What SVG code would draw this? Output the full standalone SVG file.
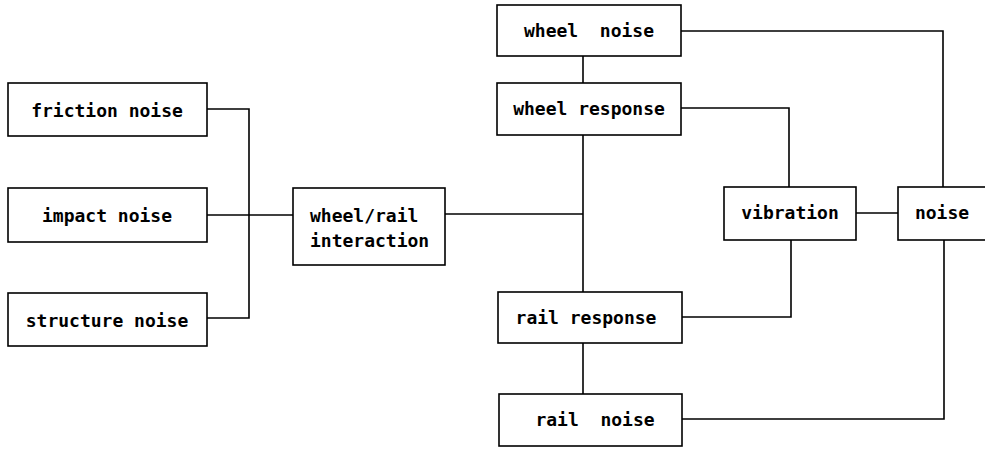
<svg xmlns="http://www.w3.org/2000/svg" width="985" height="449" viewBox="0 0 985 449">
<style>
.box{fill:#fff;stroke:#000;stroke-width:1.6}
.t{font-family:"DejaVu Sans Mono","Liberation Mono",monospace;font-weight:bold;font-size:18px;fill:#000}
.c{text-anchor:middle}
.ln{fill:none;stroke:#000;stroke-width:1.6}
</style>
<rect width="985" height="449" fill="#fff"/>
<g id="connectors">
<path class="ln" d="M207,109H249V318H207"/>
<path class="ln" d="M207,215H293"/>
<path class="ln" d="M445,214H583"/>
<path class="ln" d="M583,56V83"/>
<path class="ln" d="M583,135V292"/>
<path class="ln" d="M583,343V394"/>
<path class="ln" d="M681,31H943V187"/>
<path class="ln" d="M681,108H789V187"/>
<path class="ln" d="M682,317H791V240"/>
<path class="ln" d="M682,419H944V240"/>
<path class="ln" d="M856,213H898"/>
</g>
<g id="friction"><rect class="box" x="8" y="83" width="199" height="53"/><text class="t c" x="107" y="117">friction noise</text></g>
<g id="impact"><rect class="box" x="8" y="188" width="199" height="54"/><text class="t c" x="107" y="222">impact noise</text></g>
<g id="structure"><rect class="box" x="8" y="293" width="199" height="53"/><text class="t c" x="107" y="327">structure noise</text></g>
<g id="interaction"><rect class="box" x="293" y="188" width="152" height="77"/><text class="t" x="310" y="222">wheel/rail</text><text class="t" x="310" y="247">interaction</text></g>
<g id="wheelnoise"><rect class="box" x="497" y="5" width="184" height="51"/><text class="t c" x="589" y="37" xml:space="preserve">wheel  noise</text></g>
<g id="wheelresp"><rect class="box" x="497" y="83" width="184" height="52"/><text class="t c" x="589" y="115">wheel response</text></g>
<g id="railresp"><rect class="box" x="498" y="292" width="184" height="51"/><text class="t c" x="586" y="324">rail response</text></g>
<g id="railnoise"><rect class="box" x="499" y="394" width="183" height="52"/><text class="t c" x="595" y="426" xml:space="preserve">rail  noise</text></g>
<g id="vibration"><rect class="box" x="724" y="187" width="132" height="53"/><text class="t c" x="790" y="219">vibration</text></g>
<g id="noise"><rect class="box" x="898" y="187" width="95" height="53"/><text class="t c" x="942" y="219">noise</text></g>
</svg>
